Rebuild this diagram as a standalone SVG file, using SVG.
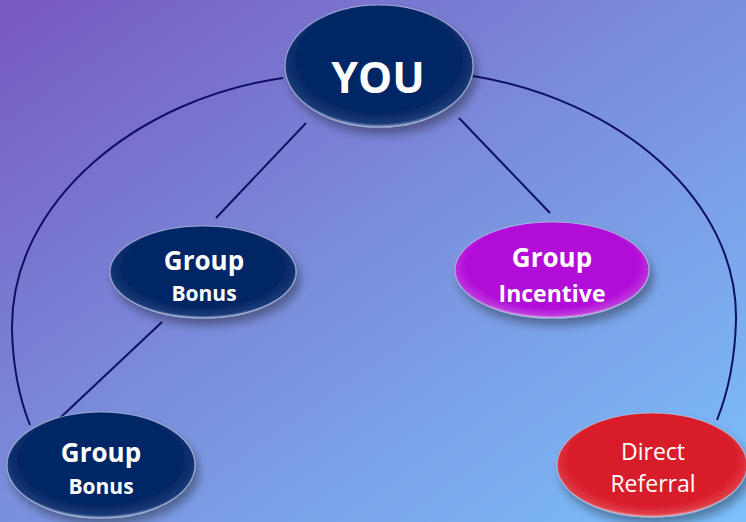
<svg xmlns="http://www.w3.org/2000/svg" width="746" height="522" viewBox="0 0 746 522">
  <defs>
    <linearGradient id="bg" x1="0" y1="0" x2="1" y2="1">
      <stop offset="0" stop-color="#7858c2"/>
      <stop offset="0.5" stop-color="#7a90dc"/>
      <stop offset="1" stop-color="#7cc0fb"/>
    </linearGradient>
    <radialGradient id="navy" cx="0.5" cy="0.45" r="0.55">
      <stop offset="0.8" stop-color="#062766"/>
      <stop offset="0.95" stop-color="#1a3a78"/>
      <stop offset="1" stop-color="#8ea2c8"/>
    </radialGradient>
    <radialGradient id="purple" cx="0.5" cy="0.45" r="0.55">
      <stop offset="0.8" stop-color="#b20ad8"/>
      <stop offset="0.95" stop-color="#bd3ade"/>
      <stop offset="1" stop-color="#dba6ec"/>
    </radialGradient>
    <radialGradient id="red" cx="0.5" cy="0.45" r="0.55">
      <stop offset="0.8" stop-color="#d91c2a"/>
      <stop offset="0.95" stop-color="#de3e48"/>
      <stop offset="1" stop-color="#efa8ae"/>
    </radialGradient>
    <filter id="sh" x="-20%" y="-20%" width="140%" height="150%">
      <feGaussianBlur in="SourceAlpha" stdDeviation="5"/>
      <feOffset dx="4" dy="7" result="b"/>
      <feComponentTransfer><feFuncA type="linear" slope="0.35"/></feComponentTransfer>
      <feMerge><feMergeNode/><feMergeNode in="SourceGraphic"/></feMerge>
    </filter>
  </defs>
  <style>
    .conn { fill: none; stroke: #0e1160; stroke-width: 2; }
    .node { stroke: #b8c4de; stroke-opacity: 0.7; stroke-width: 1.2; filter: url(#sh); }
    .t { fill: #ffffff; font-family: "Open Sans", "Noto Sans", sans-serif; text-anchor: middle; font-weight: bold; }
    .n { fill: #ffffff; font-family: "Open Sans", "Noto Sans", sans-serif; text-anchor: middle; font-weight: normal; }
  </style>
  <rect x="0" y="0" width="746" height="522" fill="url(#bg)"/>
  <g id="connectors">
    <path class="conn" d="M283,78 C140,98 10,200 12,330 C13,370 20,400 30,425"/>
    <path class="conn" d="M473,76 C620,100 738,200 736,320 C735,360 727,395 717,420"/>
    <line class="conn" x1="306" y1="123" x2="216" y2="218"/>
    <line class="conn" x1="459" y1="118" x2="550" y2="213"/>
    <line class="conn" x1="162" y1="322" x2="60" y2="418"/>
  </g>
  <g id="you">
    <ellipse class="node" cx="379" cy="66" rx="94" ry="61" fill="url(#navy)"/>
    <text class="t" x="378" y="93" font-size="43">YOU</text>
  </g>
  <g id="group-bonus-1">
    <ellipse class="node" cx="203" cy="272" rx="93" ry="46" fill="url(#navy)"/>
    <text class="t" x="204" y="270" font-size="26">Group</text>
    <text class="t" x="204" y="301" font-size="21">Bonus</text>
  </g>
  <g id="group-incentive">
    <ellipse class="node" cx="552" cy="270" rx="97" ry="48" fill="url(#purple)"/>
    <text class="t" x="552" y="267" font-size="26">Group</text>
    <text class="t" x="552" y="302" font-size="23">Incentive</text>
  </g>
  <g id="group-bonus-2">
    <ellipse class="node" cx="101" cy="465" rx="94" ry="53" fill="url(#navy)"/>
    <text class="t" x="101" y="462" font-size="26">Group</text>
    <text class="t" x="101" y="494" font-size="21">Bonus</text>
  </g>
  <g id="direct-referral">
    <ellipse class="node" cx="652" cy="465" rx="95" ry="52" fill="url(#red)"/>
    <text class="n" x="653" y="460" font-size="23">Direct</text>
    <text class="n" x="653" y="492" font-size="23">Referral</text>
  </g>
</svg>
